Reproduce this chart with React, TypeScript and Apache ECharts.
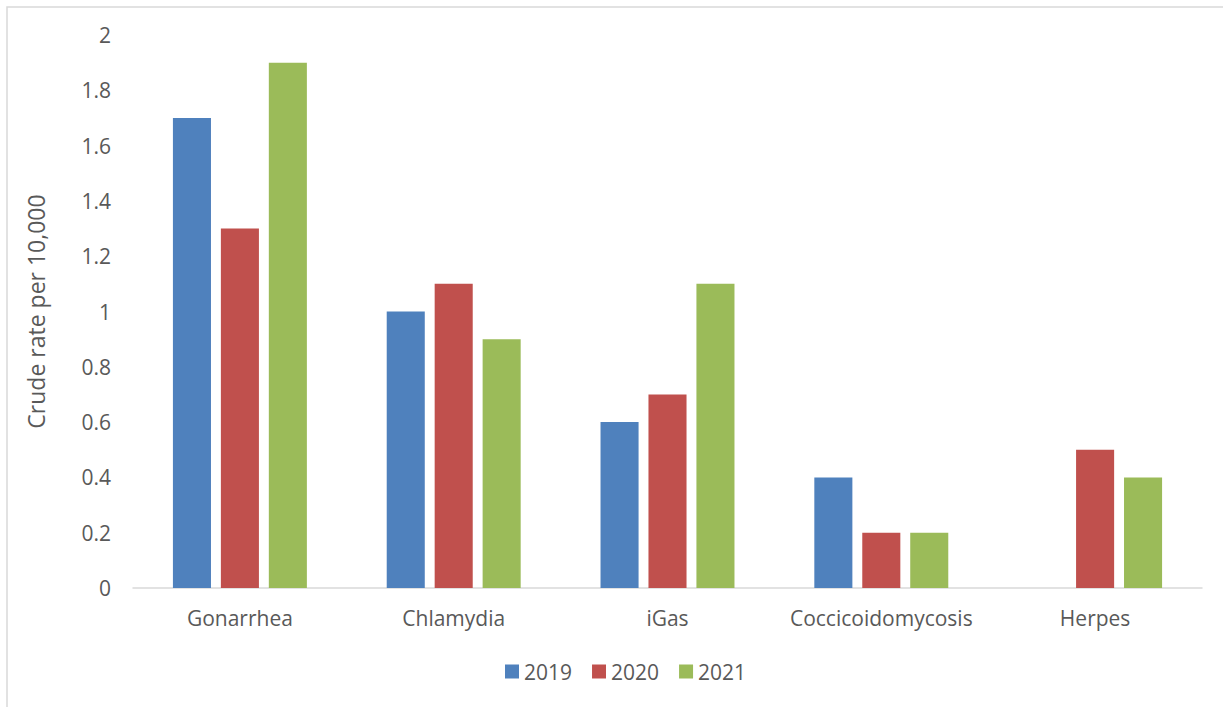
import React, { useEffect, useRef } from "react";
import * as echarts from "echarts";

const categories = ["Gonarrhea", "Chlamydia", "iGas", "Coccicoidomycosis", "Herpes"];
const years = ["2019", "2020", "2021"];
const values2019 = [1.7, 1.0, 0.6, 0.4, null];
const values2020 = [1.3, 1.1, 0.7, 0.2, 0.5];
const values2021 = [1.9, 0.9, 1.1, 0.2, 0.4];
const colors = ["#4f81bd", "#c0504d", "#9bbb59"];
const yTitle = "Crude rate per 10,000";

export default function App() {
  const ref = useRef<HTMLDivElement>(null);
  useEffect(() => {
    if (!ref.current) return;
    const chart = echarts.init(ref.current, null, { renderer: "svg" });
    const font = "'Open Sans', sans-serif";
    const seriesData = [values2019, values2020, values2021];
    chart.setOption({
      animation: false,
      backgroundColor: "#ffffff",
      textStyle: { fontFamily: font, color: "#595959" },
      graphic: [
        {
          type: "rect",
          shape: { x: 7, y: 7, width: 1240, height: 740 },
          style: { fill: "none", stroke: "#d9d9d9", lineWidth: 1.5 },
          silent: true,
        },
      ],
      grid: { left: 133, right: 21, top: 35, bottom: 119, containLabel: false },
      legend: {
        data: years,
        bottom: 20,
        left: 500,
        itemWidth: 14,
        itemHeight: 14,
        itemGap: 20,
        icon: "rect",
        textStyle: { fontFamily: font, fontSize: 21, color: "#595959" },
      },
      xAxis: {
        type: "category",
        data: categories,
        axisLine: { show: true, lineStyle: { color: "#d9d9d9", width: 1.5 } },
        axisTick: { show: false },
        axisLabel: { interval: 0, margin: 19, fontSize: 21, color: "#595959", fontFamily: font },
      },
      yAxis: {
        type: "value",
        min: 0,
        max: 2,
        interval: 0.2,
        name: yTitle,
        nameLocation: "middle",
        nameGap: 86,
        nameTextStyle: { fontSize: 23, color: "#595959", fontFamily: font },
        splitLine: { show: false },
        axisLine: { show: false },
        axisTick: { show: false },
        axisLabel: {
          margin: 22,
          fontSize: 21,
          color: "#595959",
          fontFamily: font,
          formatter: (v: number) => String(Math.round(v * 10) / 10),
        },
      },
      series: years.map((y, i) => ({
        name: y,
        type: "bar",
        data: seriesData[i],
        barWidth: "17.8%",
        barGap: "26%",
        itemStyle: { color: colors[i] },
      })),
    });
    return () => chart.dispose();
  }, []);
  return (
    <div
      ref={ref}
      style={{ position: "fixed", left: 0, top: 0, width: 1223, height: 707 }}
    />
  );
}
